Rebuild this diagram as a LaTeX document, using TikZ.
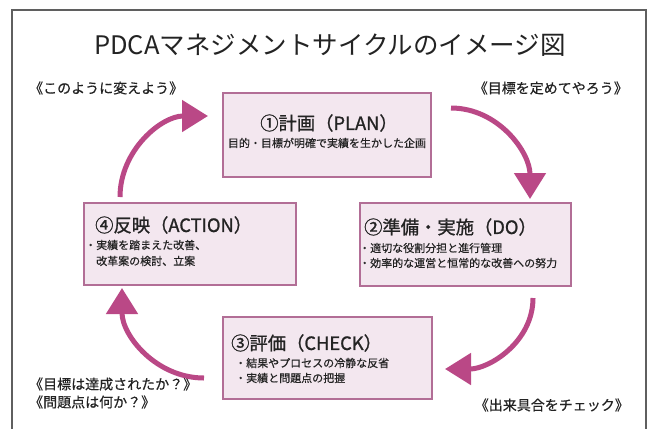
\documentclass[tikz,border=0pt]{standalone}
\usepackage{fontspec}
\setmainfont{Noto Sans CJK JP}
\newfontfamily\headfont[FakeBold=1.1]{Noto Sans CJK JP}
\newfontfamily\bodyfont[FakeBold=0.5]{Noto Sans CJK JP}
\usetikzlibrary{arrows.meta}
\definecolor{arrowc}{RGB}{186,72,134}
\definecolor{boxfill}{RGB}{243,231,239}
\definecolor{boxline}{RGB}{178,110,150}
\definecolor{framec}{RGB}{95,95,95}
\definecolor{txt}{RGB}{35,35,35}
\tikzset{
  pbox/.style={draw=boxline, line width=2bp, fill=boxfill, inner sep=0pt},
  cyc/.style={draw=arrowc, line width=5bp, -{Triangle[length=26bp,width=31bp]}},
  bigtitle/.style={inner sep=0pt, text=txt, font=\fontsize{25.5bp}{28bp}\selectfont},
  boxhead/.style={inner sep=0pt, text=txt, font=\headfont\fontsize{18.3bp}{20bp}\selectfont},
  boxbody/.style={inner sep=0pt, text=txt, font=\bodyfont\fontsize{11bp}{13bp}\selectfont},
  side/.style={inner sep=0pt, text=txt, font=\bodyfont\fontsize{14bp}{16bp}\selectfont},
}
\begin{document}
\begin{tikzpicture}[x=1bp,y=-1bp]
\useasboundingbox (0,0) rectangle (654,428);
\fill[white] (0,0) rectangle (654,428);
% frame
\draw[framec, line width=1.5bp] (12,440) -- (12,10) -- (646,10) -- (646,440);
% title
\node[bigtitle] (title) at (330,45) {PDCAマネジメントサイクルのイメージ図};
% boxes
\node[pbox, minimum width=208bp, minimum height=84bp] (plan) at (327,135) {};
\node[pbox, minimum width=211bp, minimum height=83bp] (do) at (465.5,244.5) {};
\node[pbox, minimum width=212bp, minimum height=82bp] (act) at (190,244) {};
\node[pbox, minimum width=209bp, minimum height=82bp] (chk) at (327.5,358) {};
% box texts
\node[boxhead] (planh) at (329,123) {①計画（PLAN）};
\node[boxbody] (planb) at (327,143) {目的・目標が明確で実績を生かした企画};
\node[boxhead, anchor=west] (doh) at (364,227) {②準備・実施（DO）};
\node[boxbody, anchor=west] (dob1) at (359,248) {・適切な役割分担と進行管理};
\node[boxbody, anchor=west] (dob2) at (359,263) {・効率的な運営と恒常的な改善への努力};
\node[boxhead, anchor=west] (acth) at (95,225) {④反映（ACTION）};
\node[boxbody, anchor=west] (actb1) at (85,245) {・実績を踏まえた改善、};
\node[boxbody, anchor=west] (actb2) at (85,261) {　改革案の検討、立案};
\node[boxhead, anchor=west] (chkh) at (231,343) {③評価（CHECK）};
\node[boxbody, anchor=west] (chkb1) at (235,363) {・結果やプロセスの冷静な反省};
\node[boxbody, anchor=west] (chkb2) at (235,378) {・実績と問題点の把握};
% side labels
\node[side, anchor=west] (s1) at (29,88) {《このように変えよう》};
\node[side, anchor=east] (s2) at (628,88) {《目標を定めてやろう》};
\node[side, anchor=west] (s3) at (29,384) {《目標は達成されたか？》};
\node[side, anchor=west] (s4) at (29,402) {《問題点は何か？》};
\node[side, anchor=east] (s5) at (629,405) {《出来具合をチェック》};
% cycle arrows
\coordinate (a1s) at (120,197);
\coordinate (a1e) at (208,116);
\coordinate (a2s) at (451,108);
\coordinate (a2e) at (530,199);
\coordinate (a3s) at (533,298);
\coordinate (a3e) at (445,369);
\coordinate (a4s) at (204,378);
\coordinate (a4e) at (122,288);
\draw[cyc] (a1s) to[out=90,in=180] (a1e);
\draw[cyc] (a2s) to[out=0,in=90] (a2e);
\draw[cyc] (a3s) to[out=-90,in=0] (a3e);
\draw[cyc] (a4s) to[out=180,in=-90] (a4e);
\end{tikzpicture}
\end{document}
